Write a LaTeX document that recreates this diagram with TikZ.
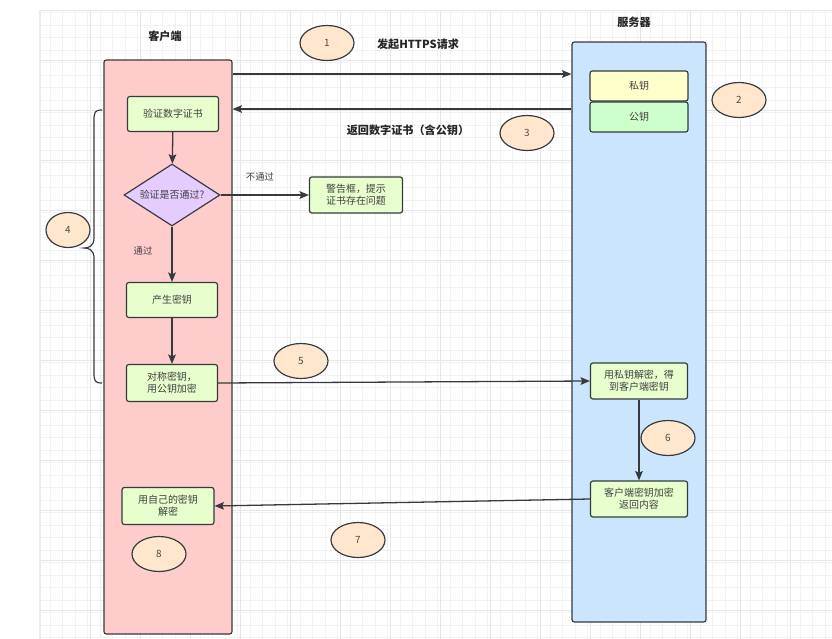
\documentclass[tikz,border=0pt]{standalone}
\usepackage{fontspec}
\setmainfont{Noto Sans CJK SC}
\usetikzlibrary{arrows.meta,shapes.geometric,calc}
\definecolor{edge}{HTML}{36393D}
\definecolor{clientfill}{HTML}{FFCCCC}
\definecolor{serverfill}{HTML}{CCE5FF}
\definecolor{stepfill}{HTML}{E6FFCC}
\definecolor{privfill}{HTML}{FFFFCC}
\definecolor{pubfill}{HTML}{CCFFCC}
\definecolor{diafill}{HTML}{E5CCFF}
\definecolor{numfill}{HTML}{FFE6CC}
\definecolor{gridminor}{HTML}{F2F2F2}
\definecolor{gridmajor}{HTML}{E6E6E6}
\def\px{0.03cm}
\tikzset{
  lane/.style={draw=edge, line width=1pt, rounded corners=2pt, inner sep=0pt},
  stepbox/.style={draw=edge, line width=1pt, fill=stepfill, rounded corners=2pt,
     minimum width=91*\px, minimum height=35*\px, inner sep=1pt, align=center,
     font=\fontsize{8.5pt}{10.5pt}\selectfont, text=black!75},
  keybox/.style={stepbox, minimum width=98*\px, minimum height=30*\px},
  num/.style={ellipse, draw=edge, line width=1pt, fill=numfill, minimum width=54*\px,
     minimum height=35*\px, inner sep=0pt, font=\fontsize{8.5pt}{10pt}\selectfont, text=black!70},
  dia/.style={diamond, draw=edge, line width=1pt, fill=diafill, aspect=1.55,
     minimum width=96*\px, minimum height=62*\px, inner sep=0pt,
     font=\fontsize{8.5pt}{10pt}\selectfont, text=black!75},
  title/.style={font=\bfseries\fontsize{9.5pt}{11pt}\selectfont, text=black!85},
  lbl/.style={font=\fontsize{8pt}{10pt}\selectfont, text=black!75},
  arr/.style={draw=edge, line width=1.1pt, -{Stealth[length=8pt,width=6.5pt,inset=1.5pt]}},
}
\begin{document}
\begin{tikzpicture}[x=\px,y=-\px]
\useasboundingbox (0,0) rectangle (832,639);
\fill[white] (0,0) rectangle (832,639);
% grid
\draw[gridminor, line width=0.4pt] (40,10) grid[step=12.5*\px] (832,639);
\foreach \gx in {40,90,...,832} \draw[gridmajor, line width=0.4pt] (\gx,10) -- (\gx,639);
\foreach \gy in {10,60,...,639} \draw[gridmajor, line width=0.4pt] (40,\gy) -- (832,\gy);
\draw[black!8, line width=1pt] (40,10) -- (40,639);

% lanes
\node[lane, fill=clientfill, minimum width=128*\px, minimum height=574*\px] (client) at (168,347) {};
\node[lane, fill=serverfill, minimum width=134*\px, minimum height=580*\px] (server) at (639,332) {};
\node[title] (clientt) at (165,36) {客户端};
\node[title] (servert) at (634,22) {服务器};

% server keys
\node[keybox, fill=privfill] (priv) at (639,86) {私钥};
\node[keybox, fill=pubfill] (pub) at (639,117) {公钥};

% client steps
\node[stepbox] (verify) at (173,114) {验证数字证书};
\node[dia] (check) at (172,195) {验证是否通过?};
\node[stepbox, minimum width=93*\px, minimum height=36*\px] (warn) at (356,195) {警告框，提示\\证书存在问题};
\node[stepbox] (gen) at (172,300) {产生密钥};
\node[stepbox, minimum height=37*\px] (sym) at (172,383) {对称密钥，\\用公钥加密};
\node[stepbox, minimum width=97*\px, minimum height=36*\px] (dec) at (639,381) {用私钥解密，得\\到客户端密钥};
\node[stepbox, minimum width=97*\px, minimum height=36*\px] (ret) at (639,499) {客户端密钥加密\\返回内容};
\node[stepbox, minimum width=92*\px, minimum height=37*\px] (own) at (168,506) {用自己的密钥\\解密};

% numbers
\node[num] (n1) at (327,43) {1};
\node[num] (n2) at (739,100) {2};
\node[num] (n3) at (527,133) {3};
\node[num, minimum width=44*\px] (n4) at (68,230) {4};
\node[num] (n5) at (301,361) {5};
\node[num] (n6) at (668,438) {6};
\node[num] (n7) at (358,540) {7};
\node[num] (n8) at (159,554) {8};

% labels
\node[title] (l1) at (418,44) {发起HTTPS请求};
\node[title] (l3) at (408,130) {返回数字证书（含公钥）};
\node[lbl] (lno) at (260,177) {不通过};
\node[lbl] (lyes) at (143,251) {通过};

% connectors
\coordinate (y1) at (0,74);
\coordinate (y2) at (0,109);
\draw[arr] (client.east |- y1) -- (server.west |- y1);
\draw[arr] (server.west |- y2) -- (client.east |- y2);
\draw[arr] (verify) -- (check);
\draw[arr] (check.east) -- (warn.west);
\draw[arr] (check.south) -- (gen.north);
\draw[arr] (gen) -- (sym);
\draw[arr] (sym.east) -- (dec.west);
\draw[arr] (dec) -- (ret);
\draw[arr] (ret.west) -- (own.east);

% brace
\coordinate (bt) at (102,110);
\coordinate (bb) at (102,383);
\coordinate (btip) at (84,248);
\draw[edge, line width=1pt] (bt) .. controls (95,110) and (94,112) .. (94,120)
  -- (94,238) .. controls (94,246) and (89,248) .. (btip)
  .. controls (89,248) and (94,250) .. (94,258)
  -- (94,373) .. controls (94,381) and (95,383) .. (bb);
\end{tikzpicture}
\end{document}
